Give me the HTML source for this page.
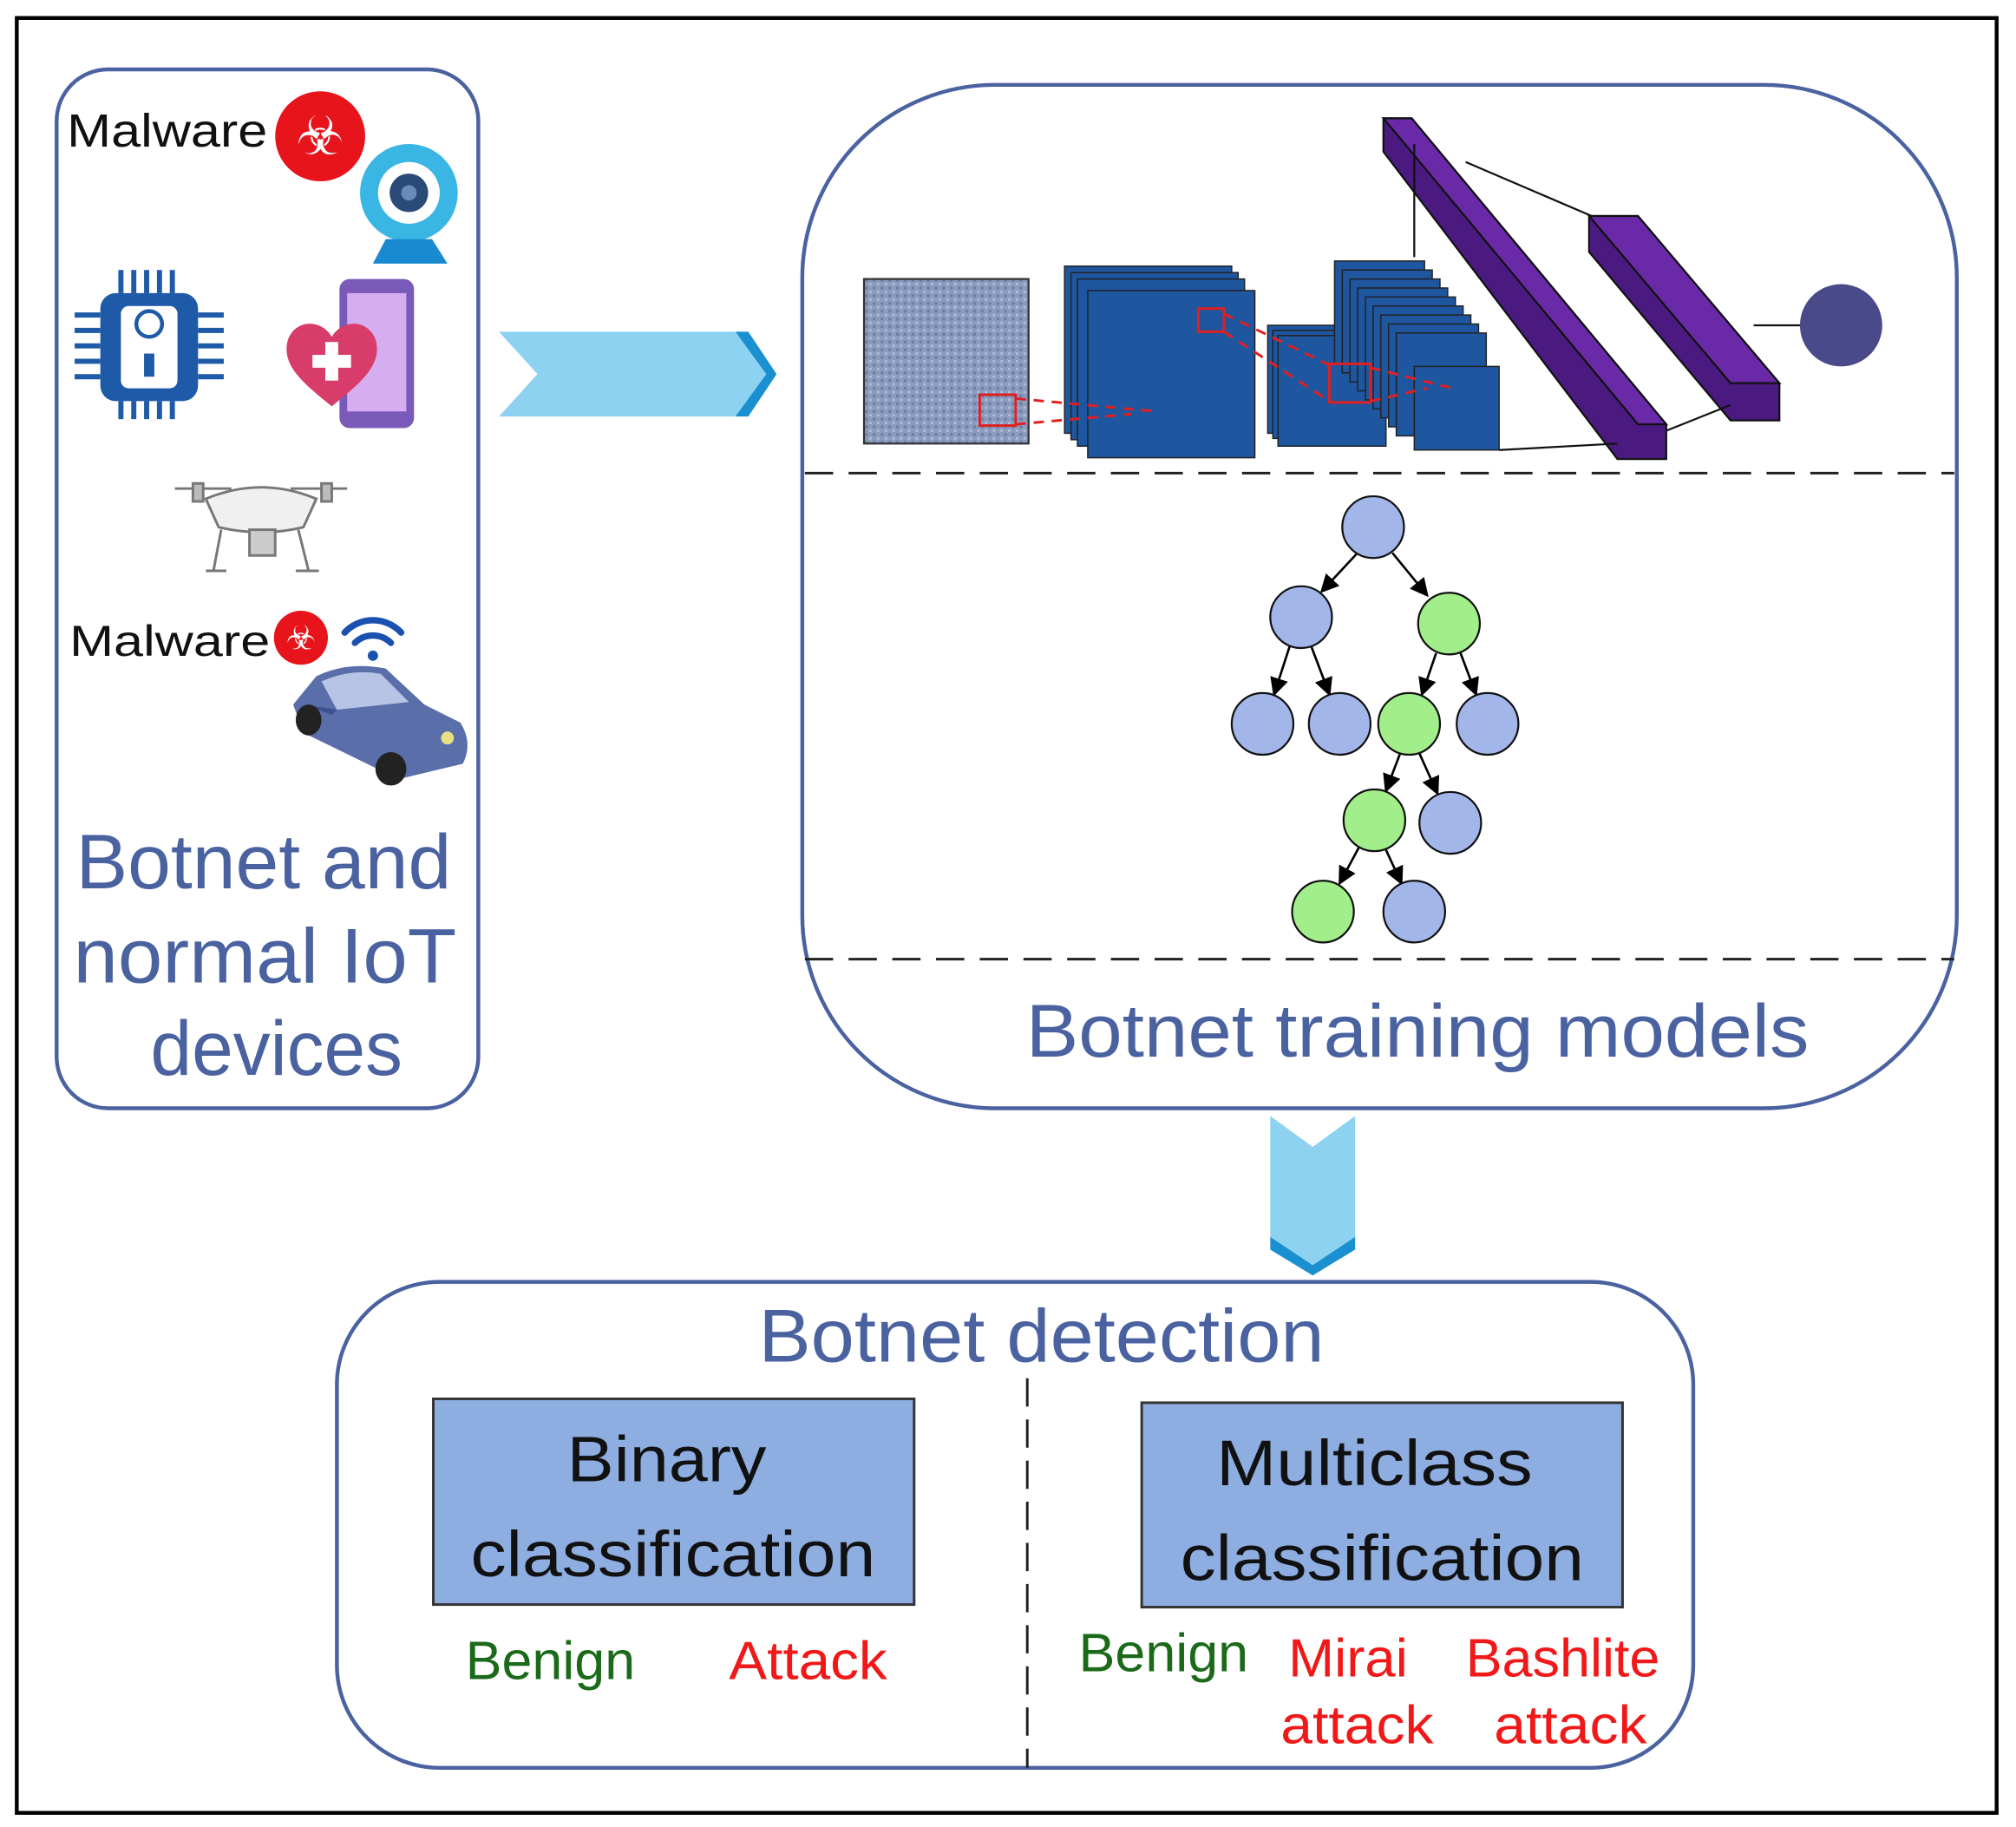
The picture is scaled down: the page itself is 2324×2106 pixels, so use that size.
<!DOCTYPE html>
<html><head><meta charset="utf-8"><style>
html,body{margin:0;padding:0;background:#fff;}
svg{display:block;}
text{font-family:"Liberation Sans",sans-serif;}
</style></head><body>
<svg width="2324" height="2106" viewBox="0 0 1568 1421" xmlns="http://www.w3.org/2000/svg">
<defs>
<pattern id="tex" width="6" height="6" patternUnits="userSpaceOnUse">
<rect width="6" height="6" fill="#8c9cbe"/><circle cx="2" cy="2" r="1.3" fill="#6f80a8"/><circle cx="5" cy="5" r="1" fill="#b4c0da"/>
</pattern>
<marker id="ah" markerWidth="8" markerHeight="8" refX="7" refY="4" orient="auto"><path d="M0,0 L8,4 L0,8 z" fill="#000"/></marker>
</defs>
<rect x="0" y="0" width="1568" height="1421" fill="#fff"/>
<rect x="13" y="14" width="1540" height="1396" fill="none" stroke="#000" stroke-width="3"/>

<rect x="44" y="54" width="328" height="808" rx="40" fill="none" stroke="#4a62a0" stroke-width="3"/>
<text x="52" y="114" font-size="36" textLength="156" lengthAdjust="spacingAndGlyphs" fill="#111">Malware</text>
<circle cx="249" cy="106" r="35" fill="#e8141c"/>
<text x="249" y="120" font-size="42" text-anchor="middle" fill="#fff">☣</text>
<circle cx="318" cy="150" r="38" fill="#3ab6e4"/>
<circle cx="318" cy="150" r="24" fill="#fff"/>
<circle cx="318" cy="150" r="15" fill="#2a4a78"/>
<circle cx="318" cy="150" r="6" fill="#6a8ab8"/>
<path d="M290,205 L300,186 L336,186 L348,205 z" fill="#1a8ad0"/>
<g fill="#1e5aa8">
<rect x="78" y="228" width="76" height="84" rx="12"/>
<g stroke="#1e5aa8" stroke-width="4">
<line x1="94" y1="210" x2="94" y2="228"/><line x1="104" y1="210" x2="104" y2="228"/><line x1="114" y1="210" x2="114" y2="228"/><line x1="124" y1="210" x2="124" y2="228"/><line x1="134" y1="210" x2="134" y2="228"/>
<line x1="94" y1="312" x2="94" y2="326"/><line x1="104" y1="312" x2="104" y2="326"/><line x1="114" y1="312" x2="114" y2="326"/><line x1="124" y1="312" x2="124" y2="326"/><line x1="134" y1="312" x2="134" y2="326"/>
<line x1="58" y1="245" x2="78" y2="245"/><line x1="58" y1="257" x2="78" y2="257"/><line x1="58" y1="269" x2="78" y2="269"/><line x1="58" y1="281" x2="78" y2="281"/><line x1="58" y1="293" x2="78" y2="293"/>
<line x1="154" y1="245" x2="174" y2="245"/><line x1="154" y1="257" x2="174" y2="257"/><line x1="154" y1="269" x2="174" y2="269"/><line x1="154" y1="281" x2="174" y2="281"/><line x1="154" y1="293" x2="174" y2="293"/>
</g></g>
<rect x="94" y="238" width="44" height="64" rx="6" fill="#fff"/>
<circle cx="116" cy="252" r="10" fill="none" stroke="#1e5aa8" stroke-width="3"/>
<rect x="112" y="275" width="8" height="18" fill="#1e5aa8"/>
<rect x="264" y="217" width="58" height="116" rx="8" fill="#7a5ab8"/>
<rect x="270" y="228" width="46" height="92" fill="#d6aef0"/>
<path d="M258,316 C236,298 218,284 224,264 C230,248 250,248 258,262 C266,248 286,248 292,264 C298,284 280,298 258,316 z" fill="#d83c6a"/>
<rect x="253" y="266" width="10" height="30" fill="#fff"/><rect x="243" y="276" width="30" height="10" fill="#fff"/>
<!-- drone -->
<g stroke="#777" stroke-width="2" fill="#f0f0f0">
<line x1="136" y1="380" x2="180" y2="380"/><line x1="226" y1="380" x2="270" y2="380"/>
<rect x="150" y="376" width="8" height="14" fill="#bbb"/><rect x="250" y="376" width="8" height="14" fill="#bbb"/>
<path d="M160,388 Q203,370 246,388 L236,410 Q203,418 170,410 z"/>
<rect x="194" y="412" width="20" height="20" fill="#ccc"/>
<path d="M172,412 L166,444 M232,412 L240,444 M160,444 L176,444 M230,444 L248,444" fill="none"/>
</g>
<text x="54" y="510" font-size="34" textLength="156" lengthAdjust="spacingAndGlyphs" fill="#111">Malware</text>
<circle cx="234" cy="496" r="21" fill="#e8141c"/>
<text x="234" y="505" font-size="26" text-anchor="middle" fill="#fff">☣</text>
<g fill="none" stroke="#1a50b0" stroke-width="5" stroke-linecap="round">
<path d="M268,492 A30,30 0 0 1 312,492"/><path d="M276,500 A20,20 0 0 1 304,500"/>
</g>
<circle cx="290" cy="510" r="4" fill="#1a50b0"/>
<!-- car -->
<path d="M228,548 L246,526 Q270,514 300,520 L330,548 L358,562 Q368,578 360,594 L310,606 L236,570 z" fill="#5a6eaa"/>
<path d="M250,530 Q272,520 296,524 L318,546 L262,552 z" fill="#b8c4e6"/>
<path d="M236,548 L258,556 L262,552 Z" fill="#3e5090"/>
<ellipse cx="240" cy="560" rx="10" ry="12" fill="#222"/><ellipse cx="304" cy="598" rx="12" ry="13" fill="#222"/>
<circle cx="348" cy="574" r="5" fill="#e8e080"/>
<text x="205" y="691" font-size="60" text-anchor="middle" textLength="292" lengthAdjust="spacingAndGlyphs" fill="#4a62a0">Botnet and</text>
<text x="206" y="764" font-size="60" text-anchor="middle" textLength="298" lengthAdjust="spacingAndGlyphs" fill="#4a62a0">normal IoT</text>
<text x="215" y="836" font-size="60" text-anchor="middle" textLength="196" lengthAdjust="spacingAndGlyphs" fill="#4a62a0">devices</text>

<polygon points="388,258 572,258 602,291 572,324 388,324 418,291" fill="#8ed2f2"/>
<polygon points="572,258 582,258 604,291 582,324 572,324 596,291" fill="#1a90d0"/>

<rect x="624" y="66" width="898" height="796" rx="150" fill="none" stroke="#4a62a0" stroke-width="3"/>
<line x1="626" y1="368" x2="1520" y2="368" stroke="#222" stroke-width="2" stroke-dasharray="22,12"/>
<line x1="626" y1="746" x2="1520" y2="746" stroke="#222" stroke-width="2" stroke-dasharray="22,12"/>
<rect x="672" y="217" width="128" height="128" fill="url(#tex)" stroke="#333" stroke-width="1.5"/>
<g stroke="#222" stroke-width="1" fill="#1e56a0">
<rect x="828" y="207" width="130" height="130"/><rect x="833" y="212" width="130" height="130"/><rect x="838" y="217" width="130" height="130"/><rect x="846" y="226" width="130" height="130"/>
<rect x="986" y="253" width="80" height="84"/><rect x="990" y="257" width="80" height="84"/><rect x="994" y="261" width="84" height="86"/>
<rect x="1038" y="203" width="70" height="80"/><rect x="1044" y="210" width="70" height="80"/><rect x="1050" y="217" width="70" height="80"/><rect x="1056" y="224" width="70" height="80"/><rect x="1062" y="231" width="70" height="80"/><rect x="1068" y="238" width="70" height="80"/><rect x="1074" y="245" width="70" height="80"/><rect x="1080" y="252" width="70" height="80"/><rect x="1086" y="259" width="70" height="80"/><rect x="1100" y="285" width="66" height="65"/>
</g>
<g stroke="#e02020" stroke-width="2" fill="none">
<rect x="762" y="307" width="28" height="24"/><rect x="932" y="240" width="20" height="18"/><rect x="1034" y="283" width="32" height="30"/>
<g stroke-dasharray="8,6"><line x1="790" y1="310" x2="900" y2="320"/><line x1="790" y1="330" x2="880" y2="322"/><line x1="952" y1="244" x2="1034" y2="284"/><line x1="952" y1="258" x2="1034" y2="312"/><line x1="1066" y1="286" x2="1130" y2="302"/><line x1="1066" y1="312" x2="1110" y2="302"/></g>
</g>
<g stroke="#111" stroke-width="1.5">
<polygon points="1076,92 1098,92 1296,330 1296,357 1258,357 1076,118" fill="#4a1a80"/>
<polygon points="1076,92 1098,92 1296,330 1274,330" fill="#6a2aa8"/>
<polygon points="1236,168 1274,168 1384,298 1384,327 1346,327 1236,196" fill="#4a1a80"/>
<polygon points="1236,168 1274,168 1384,298 1346,298" fill="#6a2aa8"/>
</g>
<g stroke="#111" stroke-width="1.5">
<line x1="1100" y1="112" x2="1100" y2="200"/><line x1="1140" y1="126" x2="1238" y2="168"/><line x1="1166" y1="350" x2="1258" y2="345"/><line x1="1296" y1="335" x2="1346" y2="315"/><line x1="1364" y1="253" x2="1402" y2="253"/>
</g>
<circle cx="1432" cy="253" r="32" fill="#4a4a8a"/>
<g stroke="#000" stroke-width="1.8" marker-end="url(#ah)">
<line x1="1055" y1="431" x2="1028" y2="460"/><line x1="1083" y1="430" x2="1110" y2="463"/>
<line x1="1003" y1="503" x2="991" y2="540"/><line x1="1020" y1="503" x2="1034" y2="540"/>
<line x1="1117" y1="508" x2="1106" y2="540"/><line x1="1136" y1="508" x2="1148" y2="540"/>
<line x1="1089" y1="586" x2="1078" y2="615"/><line x1="1104" y1="586" x2="1118" y2="617"/>
<line x1="1057" y1="659" x2="1042" y2="687"/><line x1="1078" y1="661" x2="1090" y2="687"/>
</g>
<g stroke="#111" stroke-width="1.5">
<circle cx="1068" cy="410" r="24" fill="#a2b6ea"/><circle cx="1012" cy="480" r="24" fill="#a2b6ea"/><circle cx="1127" cy="485" r="24" fill="#a2ee8a"/>
<circle cx="982" cy="563" r="24" fill="#a2b6ea"/><circle cx="1042" cy="563" r="24" fill="#a2b6ea"/><circle cx="1096" cy="563" r="24" fill="#a2ee8a"/><circle cx="1157" cy="563" r="24" fill="#a2b6ea"/>
<circle cx="1069" cy="638" r="24" fill="#a2ee8a"/><circle cx="1128" cy="640" r="24" fill="#a2b6ea"/>
<circle cx="1029" cy="709" r="24" fill="#a2ee8a"/><circle cx="1100" cy="709" r="24" fill="#a2b6ea"/>
</g>
<text x="798" y="822" font-size="58" textLength="609" lengthAdjust="spacingAndGlyphs" fill="#4a62a0">Botnet training models</text>

<polygon points="988,868 1021,892 1054,868 1054,962 1021,984 988,962" fill="#8ed2f2"/>
<polygon points="988,962 1021,984 1054,962 1054,972 1021,992 988,972" fill="#1a90d0"/>

<rect x="262" y="997" width="1055" height="378" rx="80" fill="none" stroke="#4a62a0" stroke-width="3"/>
<text x="590" y="1059" font-size="58" textLength="440" lengthAdjust="spacingAndGlyphs" fill="#4a62a0">Botnet detection</text>
<line x1="799" y1="1072" x2="799" y2="1375" stroke="#222" stroke-width="2" stroke-dasharray="22,10"/>
<rect x="337" y="1088" width="374" height="160" fill="#8eaee2" stroke="#333" stroke-width="2"/>
<text x="441" y="1152" font-size="50" textLength="155" lengthAdjust="spacingAndGlyphs" fill="#111">Binary</text>
<text x="366" y="1226" font-size="50" textLength="315" lengthAdjust="spacingAndGlyphs" fill="#111">classification</text>
<rect x="888" y="1091" width="374" height="159" fill="#8eaee2" stroke="#333" stroke-width="2"/>
<text x="946" y="1155" font-size="50" textLength="246" lengthAdjust="spacingAndGlyphs" fill="#111">Multiclass</text>
<text x="918" y="1229" font-size="50" textLength="314" lengthAdjust="spacingAndGlyphs" fill="#111">classification</text>
<text x="362" y="1306" font-size="42" textLength="132" lengthAdjust="spacingAndGlyphs" fill="#1a6a1a">Benign</text>
<text x="567" y="1306" font-size="42" textLength="123" lengthAdjust="spacingAndGlyphs" fill="#f01818">Attack</text>
<text x="839" y="1300" font-size="42" textLength="132" lengthAdjust="spacingAndGlyphs" fill="#1a6a1a">Benign</text>
<text x="1002" y="1304" font-size="42" textLength="93" lengthAdjust="spacingAndGlyphs" fill="#f01818">Mirai</text>
<text x="996" y="1356" font-size="42" textLength="119" lengthAdjust="spacingAndGlyphs" fill="#f01818">attack</text>
<text x="1140" y="1304" font-size="42" textLength="151" lengthAdjust="spacingAndGlyphs" fill="#f01818">Bashlite</text>
<text x="1162" y="1356" font-size="42" textLength="119" lengthAdjust="spacingAndGlyphs" fill="#f01818">attack</text>
</svg>
</body></html>
